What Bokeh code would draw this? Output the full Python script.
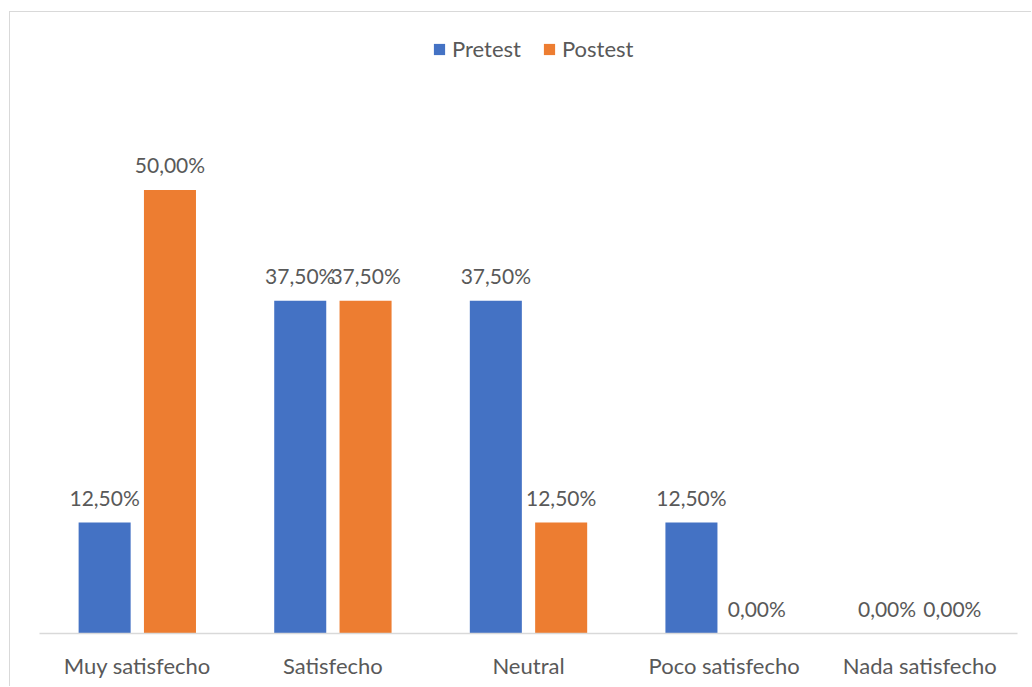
from bokeh.plotting import figure
from bokeh.models import ColumnDataSource, FactorRange, Range1d, Legend, LegendItem
from bokeh.transform import dodge
from bokeh.core.properties import value
from bokeh.embed import file_html
from bokeh.resources import INLINE

# Satisfaction levels and the share of answers before and after
categories = ["Muy satisfecho", "Satisfecho", "Neutral", "Poco satisfecho", "Nada satisfecho"]
pretest = [12.5, 37.5, 37.5, 12.5, 0.0]
postest = [50.0, 37.5, 12.5, 0.0, 0.0]
series_names = ["Pretest", "Postest"]

BLUE = "#4472C4"
ORANGE = "#ED7D31"
TEXT = "#595959"
LINE = "#D9D9D9"
FONT = "Lato"


def pct(v):
    return f"{v:.2f}%".replace(".", ",")


src = ColumnDataSource(dict(
    cat=categories,
    pre=pretest,
    post=postest,
    pre_lbl=[pct(v) for v in pretest],
    post_lbl=[pct(v) for v in postest],
))

p = figure(
    x_range=FactorRange(*categories, range_padding=0),
    y_range=Range1d(0, 70),
    width=1022, height=675,
    output_backend="svg", toolbar_location=None,
    min_border_left=29, min_border_right=15,
    min_border_top=0, min_border_bottom=54,
)
# thin frame around the chart area, drawn by the page
p.margin = (11, 0, 0, 9)
p.styles = {"border-left": f"1.5px solid {LINE}", "border-top": f"1.5px solid {LINE}"}
p.outline_line_color = None
p.background_fill_color = "white"
p.border_fill_color = "white"
p.xgrid.grid_line_color = None
p.ygrid.grid_line_color = None

OFF = 0.167
W = 0.266

r_pre = p.vbar(x=dodge("cat", -OFF, range=p.x_range), top="pre", width=W,
               source=src, fill_color=BLUE, line_color=None)
r_post = p.vbar(x=dodge("cat", OFF, range=p.x_range), top="post", width=W,
                source=src, fill_color=ORANGE, line_color=None)

for col, lbl, off in (("pre", "pre_lbl", -OFF), ("post", "post_lbl", OFF)):
    p.text(x=dodge("cat", off, range=p.x_range), y=col, text=lbl, source=src,
           text_align="center", text_baseline="alphabetic", y_offset=-25,
           text_font=value(FONT), text_font_size="21px", text_color=TEXT)

# axes
p.yaxis.visible = False
ax = p.xaxis[0]
ax.axis_line_color = LINE
ax.axis_line_width = 1.5
ax.major_tick_line_color = None
ax.minor_tick_line_color = None
ax.major_label_text_font = FONT
ax.major_label_text_font_size = "22px"
ax.major_label_text_color = TEXT
ax.major_label_standoff = 12

legend = Legend(
    items=[LegendItem(label=series_names[0], renderers=[r_pre]),
           LegendItem(label=series_names[1], renderers=[r_post])],
    orientation="horizontal",
    location=(393, 571),
    border_line_color=None, background_fill_alpha=0,
    padding=0, margin=0, spacing=21,
    glyph_width=14, glyph_height=14, label_standoff=6,
    label_text_font=FONT, label_text_font_size="22px", label_text_color=TEXT,
)
p.add_layout(legend, "center")

open("out.html", "w").write(file_html(p, INLINE))
